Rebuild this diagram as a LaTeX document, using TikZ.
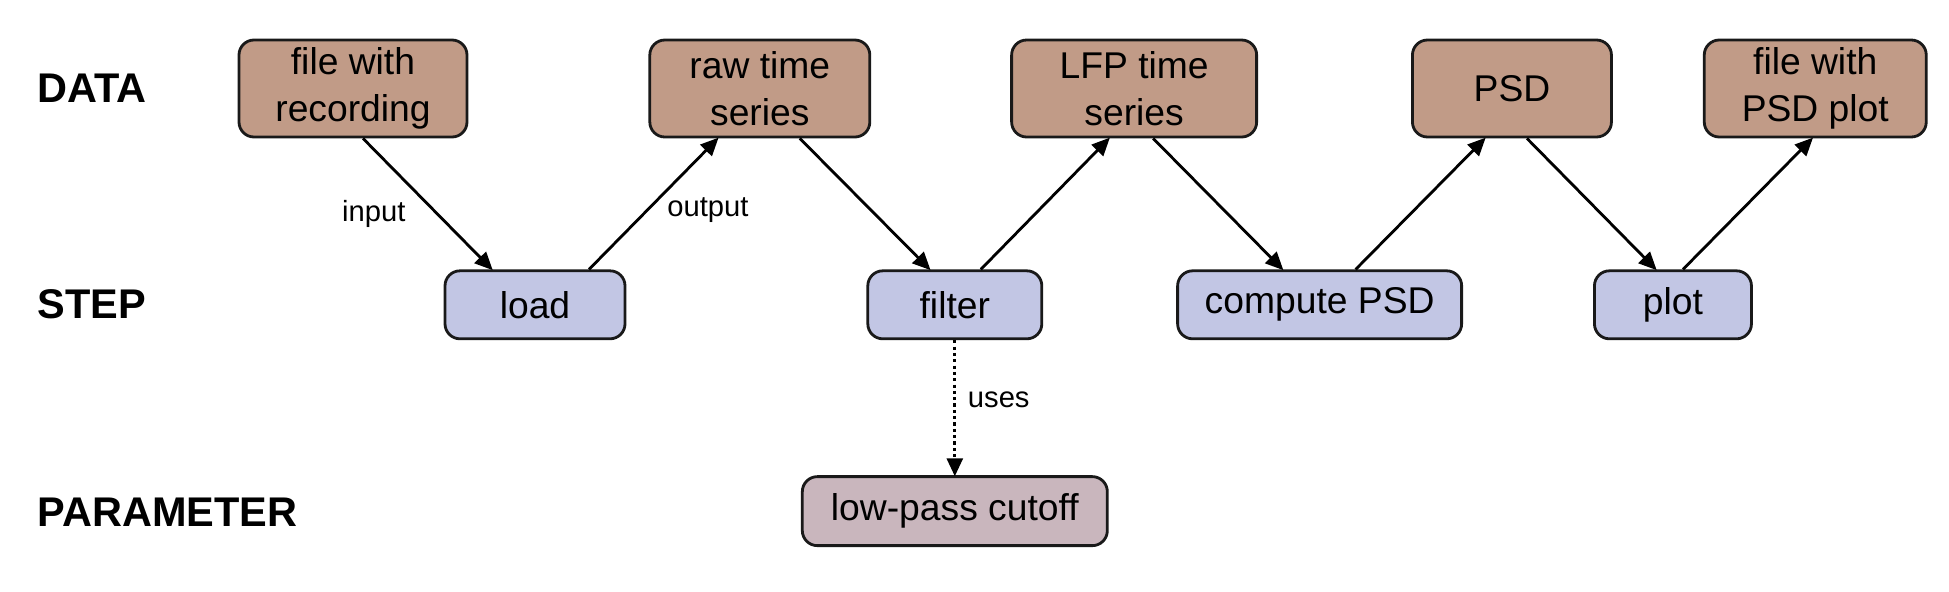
\documentclass[tikz,border=0pt]{standalone}
\usepackage{fontspec}
\setmainfont{Liberation Sans}
\usepackage{tikz}
\usetikzlibrary{positioning, arrows.meta}

\definecolor{datafill}{RGB}{193,155,135}
\definecolor{stepfill}{RGB}{194,198,228}
\definecolor{paramfill}{RGB}{201,182,189}
\definecolor{boxline}{RGB}{25,25,25}

\tikzset{
  box/.style={draw=boxline, line width=0.8pt, rounded corners=0.15cm, align=center,
    inner sep=1pt, font=\fontsize{10.6}{13.3}\selectfont},
  data/.style={box, fill=datafill, minimum height=0.97cm},
  stepbox/.style={box, fill=stepfill, minimum height=0.68cm},
  param/.style={box, fill=paramfill, minimum height=0.69cm},
  rowlabel/.style={anchor=west, inner sep=0pt, font=\fontsize{11.8}{13}\selectfont\bfseries},
  flow/.style={line width=0.8pt, -{Triangle[length=1.8mm, width=1.6mm]}, shorten >=-0.3pt},
  lbl/.style={font=\fontsize{8.3}{10}\selectfont}
}

\begin{document}
\begin{tikzpicture}

  \useasboundingbox (0,0) rectangle (19.49,-5.91);

  % Data nodes
  \node[data, minimum width=2.28cm] at (3.53,-0.885) (file) {file with\\recording};
  \node[data, minimum width=2.20cm, right=1.80cm of file] (raw) {raw time\\series};
  \node[data, minimum width=2.45cm, right=1.39cm of raw]  (lfp) {LFP time\\series};
  \node[data, minimum width=1.99cm, right=1.53cm of lfp]  (psd) {PSD};
  \node[data, minimum width=2.22cm, right=0.90cm of psd]  (res) {file with\\PSD plot};

  % Steps
  \node[stepbox, minimum width=1.80cm, below=1.31cm of file, xshift=1.82cm] (load) {load};
  \node[stepbox, minimum width=1.74cm, right=2.40cm of load]    (filter)  {filter};
  \node[stepbox, minimum width=2.84cm, right=1.33cm of filter]  (compute) {compute PSD};
  \node[stepbox, minimum width=1.57cm, right=1.30cm of compute] (plot)    {plot};

  % Parameter
  \node[param, minimum width=3.05cm, below=1.35cm of filter] (cutoff) {low-pass cutoff};

  % Row labels
  \node[rowlabel] at (0.37,-0.885) (datalbl)  {DATA};
  \node[rowlabel] at (0.37,-3.045) (steplbl)  {STEP};
  \node[rowlabel] at (0.37,-5.12)  (paramlbl) {PARAMETER};

  % Edges
  \draw[flow] ([xshift=0.10cm]file.south) -- node[lbl, pos=0.58, xshift=-0.64cm] {input} ([xshift=-0.43cm]load.north);
  \draw[flow] ([xshift=0.54cm]load.north) -- node[lbl, pos=0.45, xshift=0.61cm] {output} ([xshift=-0.42cm]raw.south);
  \draw[flow] ([xshift=0.40cm]raw.south) -- ([xshift=-0.25cm]filter.north);
  \draw[flow] ([xshift=0.26cm]filter.north) -- ([xshift=-0.25cm]lfp.south);
  \draw[flow] ([xshift=0.19cm]lfp.south) -- ([xshift=-0.37cm]compute.north);
  \draw[flow] ([xshift=0.36cm]compute.north) -- ([xshift=-0.27cm]psd.south);
  \draw[flow] ([xshift=0.15cm]psd.south) -- ([xshift=-0.17cm]plot.north);
  \draw[flow] ([xshift=0.10cm]plot.north) -- ([xshift=-0.03cm]res.south);
  \draw[flow, dash pattern=on 0.9pt off 0.9pt] (filter) -- node[lbl, pos=0.44, right] {uses} (cutoff);

\end{tikzpicture}
\end{document}
